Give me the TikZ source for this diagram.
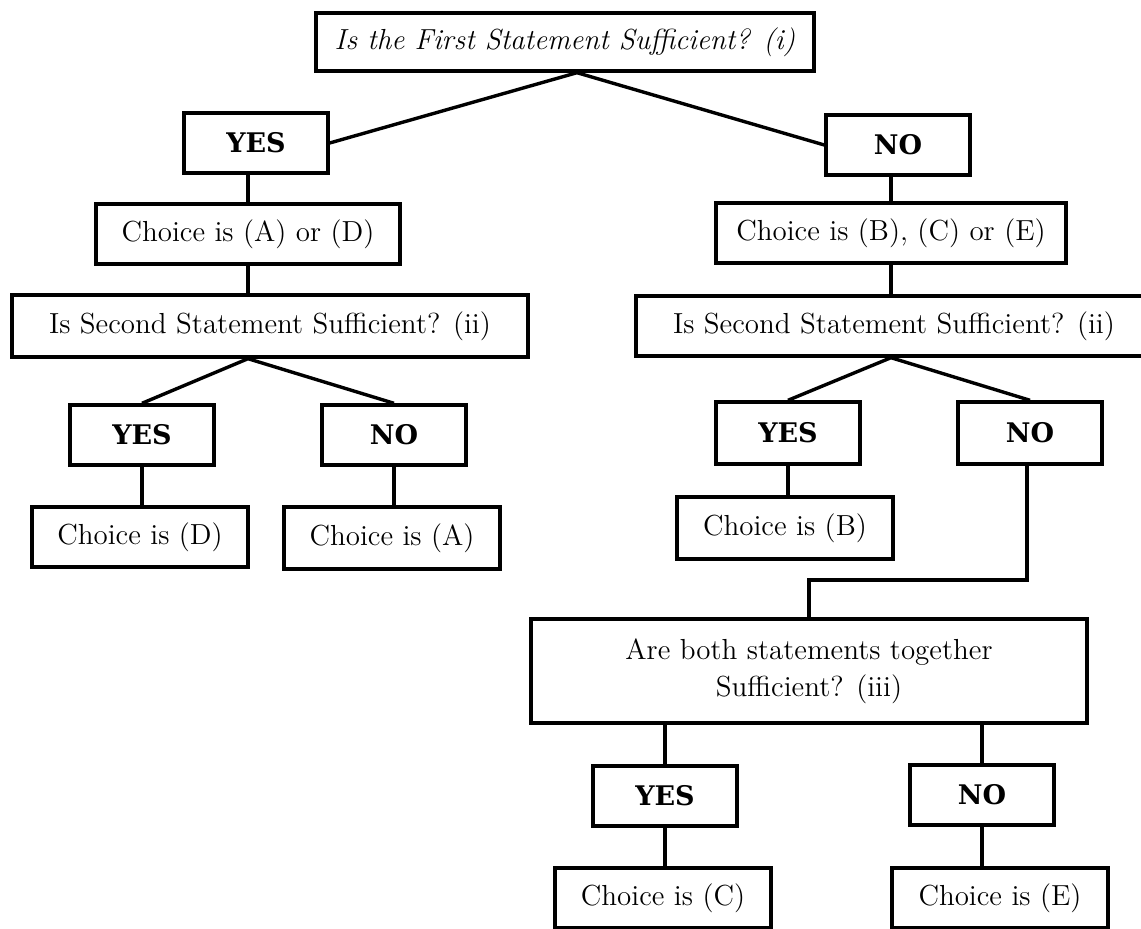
\documentclass[tikz,border=0pt]{standalone}
\usepackage{fontspec}
\newfontfamily\slabfont{DejaVu Serif}
\usetikzlibrary{positioning}

\begin{document}
\begin{tikzpicture}[
    x=0.5pt, y=-0.5pt,
    box/.style={rectangle, draw=black, line width=1.7pt, inner sep=0pt, align=center, font=\fontsize{14.5}{18.5}\selectfont},
    question/.style={box, minimum height=30pt},
    answer/.style={box, minimum width=72pt, minimum height=30pt, font=\slabfont\bfseries\fontsize{13.5}{16}\selectfont},
    choice/.style={box, minimum width=108pt, minimum height=30pt},
    link/.style={line width=1.7pt, draw=black}
]
\useasboundingbox (0,0) rectangle (1141,929);

% First statement
\node (first_q) [question, minimum width=249pt, minimum height=29pt] at (565,42) {\itshape Is the First Statement Sufficient? (i)};
\node (yes_one) [answer] at (256,143) {YES};
\node (no_one) [answer] at (898,145) {NO};

% Left branch
\node (choice_ad) [choice, minimum width=152pt] at (248,234) {Choice is (A) or (D)};
\node (second_left) [question, minimum width=258pt, minimum height=31pt] at (270,326) {Is Second Statement Sufficient? (ii)};
\node (yes_two) [answer] at (142,435) {YES};
\node (no_two) [answer] at (394,435) {NO};
\node (choice_d) [choice] at (140,537) {Choice is (D)};
\node (choice_a) [choice, minimum height=31pt] at (392,538) {Choice is (A)};

% Right branch
\node (choice_bce) [choice, minimum width=175pt] at (891,233) {Choice is (B), (C) or (E)};
\node (second_right) [question, minimum width=258pt] at (894,326) {Is Second Statement Sufficient? (ii)};
\node (yes_three) [answer, minimum height=31pt] at (788,433) {YES};
\node (no_three) [answer, minimum height=31pt] at (1030,433) {NO};
\node (choice_b) [choice, minimum height=31pt] at (785,528) {Choice is (B)};

% Both statements
\node (both_q) [question, minimum width=278pt, minimum height=52pt] at (809,671) {Are both statements together\\Sufficient? (iii)};
\node (yes_four) [answer] at (665,796) {YES};
\node (no_four) [answer] at (982,795) {NO};
\node (choice_c) [choice] at (663,898) {Choice is (C)};
\node (choice_e) [choice] at (1000,898) {Choice is (E)};

\coordinate (knee) at (1027,580);

% Links
\draw [link] (yes_one.east) -- ([xshift=6pt]first_q.south) -- (no_one.west);

\draw [link] (choice_ad.north |- yes_one.south) -- (choice_ad.north);
\draw [link] (choice_ad.south) -- (choice_ad.south |- second_left.north);
\draw [link] (yes_two.north) -- (choice_ad.south |- second_left.south) -- (no_two.north);

\draw [link] (choice_bce.north |- no_one.south) -- (choice_bce.north);
\draw [link] (choice_bce.south) -- (choice_bce.south |- second_right.north);
\draw [link] (yes_three.north) -- (choice_bce.south |- second_right.south) -- (no_three.north);

\draw [link] (no_three.south -| knee) -- (knee) -| (both_q.north);
\draw [link] (yes_four.north |- both_q.south) -- (yes_four.north);
\draw [link] (no_four.north |- both_q.south) -- (no_four.north);

\foreach \upper/\lower in {yes_two/choice_d, no_two/choice_a, yes_three/choice_b, yes_four/choice_c, no_four/choice_e} {
    \draw [link] (\upper.south) -- (\upper.south |- \lower.north);
}

\end{tikzpicture}
\end{document}
